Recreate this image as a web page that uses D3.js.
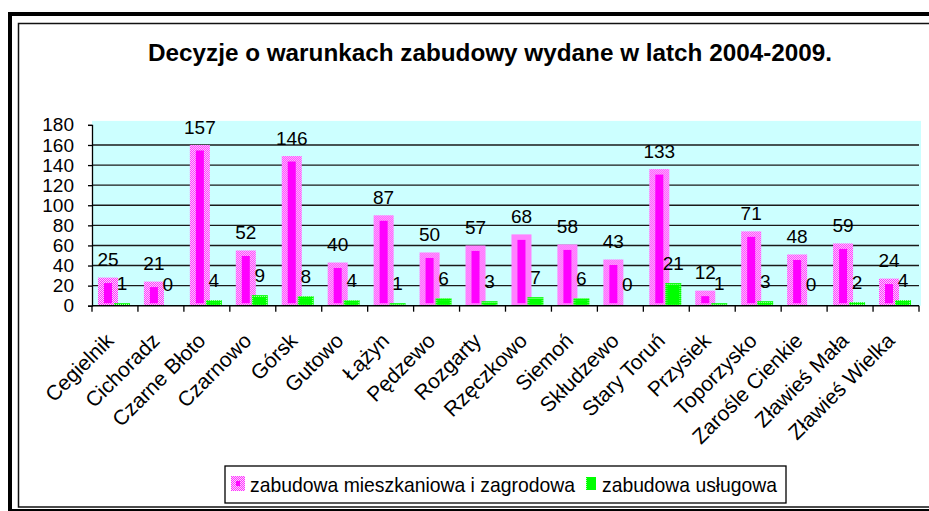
<!DOCTYPE html>
<html>
<head>
<meta charset="utf-8">
<script src="https://cdn.jsdelivr.net/npm/d3@7"></script>
<style>
  body { margin: 0; background: #fff; }
  text { font-family: "Liberation Sans", Arial, sans-serif; fill: #000; }
</style>
</head>
<body>
<div id="chart"></div>
<script>
const categories = ["Cegielnik", "Cichoradz", "Czarne Błoto", "Czarnowo", "Górsk", "Gutowo", "Łążyn", "Pędzewo", "Rozgarty", "Rzęczkowo", "Siemoń", "Skłudzewo", "Stary Toruń", "Przysiek", "Toporzysko", "Zarośle Cienkie", "Zławieś Mała", "Zławieś Wielka"];
const mieszkaniowa = [25, 21, 157, 52, 146, 40, 87, 50, 57, 68, 58, 43, 133, 12, 71, 48, 59, 24];
const uslugowa = [1, 0, 4, 9, 8, 4, 1, 6, 3, 7, 6, 0, 21, 1, 3, 0, 2, 4];
const seriesNames = ["zabudowa mieszkaniowa i zagrodowa", "zabudowa usługowa"];
const yTicks = [0, 20, 40, 60, 80, 100, 120, 140, 160, 180];
const title = "Decyzje o warunkach zabudowy wydane w latch 2004-2009.";

const W = 929, H = 511;
const plot = { left: 92, right: 919, top: 124.9, bottom: 305.7 };

const svg = d3
  .select("#chart")
  .append("svg")
  .attr("width", W)
  .attr("height", H);

const defs = svg.append("defs");
const pinkPat = defs
  .append("pattern")
  .attr("id", "pinkPat")
  .attr("width", 2)
  .attr("height", 2)
  .attr("patternUnits", "userSpaceOnUse");
pinkPat.append("rect").attr("width", 2).attr("height", 2).attr("fill", "#ff33ff");
pinkPat.append("rect").attr("width", 1).attr("height", 1).attr("fill", "#ffd0ff");
pinkPat.append("rect").attr("x", 1).attr("y", 1).attr("width", 1).attr("height", 1).attr("fill", "#ffd0ff");

const greenPat = defs
  .append("pattern")
  .attr("id", "greenPat")
  .attr("width", 2)
  .attr("height", 2)
  .attr("patternUnits", "userSpaceOnUse");
greenPat.append("rect").attr("width", 2).attr("height", 2).attr("fill", "#00ff00");
greenPat.append("rect").attr("width", 1).attr("height", 1).attr("fill", "#b0ffb0");

// frame
svg.append("rect").attr("width", W).attr("height", H).attr("fill", "#fff");
svg
  .append("rect")
  .attr("x", 10)
  .attr("y", 14)
  .attr("width", 930)
  .attr("height", 497)
  .attr("fill", "none")
  .attr("stroke", "#000")
  .attr("stroke-width", 4);
svg
  .append("rect")
  .attr("x", 18.5)
  .attr("y", 23.5)
  .attr("width", 920)
  .attr("height", 483.5)
  .attr("fill", "none")
  .attr("stroke", "#111")
  .attr("stroke-width", 1.5);

svg
  .append("text")
  .attr("x", 490)
  .attr("y", 61)
  .attr("text-anchor", "middle")
  .attr("font-size", 24)
  .attr("font-weight", "bold")
  .attr("textLength", 684)
  .attr("lengthAdjust", "spacingAndGlyphs")
  .text(title);

const x = d3
  .scaleBand()
  .domain(categories)
  .range([plot.left, plot.right])
  .padding(0);
const xSub = d3
  .scaleBand()
  .domain([0, 1])
  .range([0, x.bandwidth()])
  .paddingInner(0)
  .paddingOuter(0.64);
const y = d3
  .scaleLinear()
  .domain([0, 180])
  .range([plot.bottom, plot.top]);

svg
  .append("rect")
  .attr("x", plot.left)
  .attr("y", y(180) - 4)
  .attr("width", plot.right - plot.left + 2)
  .attr("height", plot.bottom - y(180) + 4)
  .attr("fill", "#ccffff");

svg
  .append("g")
  .selectAll("line")
  .data(yTicks.slice(1, -1))
  .join("line")
  .attr("x1", plot.left)
  .attr("x2", plot.right)
  .attr("y1", (d) => y(d))
  .attr("y2", (d) => y(d))
  .attr("stroke", "#1a1a1a")
  .attr("stroke-width", 1.4);

const yAxis = svg
  .append("g")
  .attr("transform", `translate(${plot.left}, 0)`)
  .call(d3.axisLeft(y).tickValues(yTicks).tickSize(4).tickPadding(14));
yAxis.selectAll("text").attr("font-size", 19).style("font-family", "Liberation Sans, Arial, sans-serif");
yAxis.selectAll("path, line").attr("stroke", "#000").attr("stroke-width", 1.3);

const rows = categories.map((c, i) => ({ c, vals: [mieszkaniowa[i], uslugowa[i]] }));

const groups = svg
  .append("g")
  .selectAll("g")
  .data(rows)
  .join("g")
  .attr("transform", (d) => `translate(${x(d.c)}, 0)`);

// pink bars: patterned border, solid core
groups
  .append("rect")
  .attr("x", xSub(0) - 3)
  .attr("y", (d) => y(d.vals[0]) - 3)
  .attr("width", xSub.bandwidth() + 6)
  .attr("height", (d) => plot.bottom - y(d.vals[0]) + 3)
  .attr("fill", "url(#pinkPat)");
groups
  .append("rect")
  .attr("x", xSub(0) + 3)
  .attr("y", (d) => y(d.vals[0]) + 2.5)
  .attr("width", xSub.bandwidth() - 6)
  .attr("height", (d) => Math.max(0, plot.bottom - 2.5 - y(d.vals[0]) - 2.5))
  .attr("fill", "#ff00ff");

groups
  .filter((d) => d.vals[1] > 0)
  .append("rect")
  .attr("x", xSub(1) - 1)
  .attr("y", (d) => y(d.vals[1]) - 1.5)
  .attr("width", xSub.bandwidth() + 2)
  .attr("height", (d) => plot.bottom - y(d.vals[1]) + 1.5)
  .attr("fill", "url(#greenPat)");
groups
  .filter((d) => d.vals[1] > 2)
  .append("rect")
  .attr("x", xSub(1) + 1)
  .attr("y", (d) => y(d.vals[1]) + 0.5)
  .attr("width", xSub.bandwidth() - 2)
  .attr("height", (d) => plot.bottom - y(d.vals[1]) - 1.5)
  .attr("fill", "#00ff00");

[0, 1].forEach((s) => {
  groups
    .append("text")
    .attr("x", xSub(s) + xSub.bandwidth() / 2)
    .attr("y", (d) => y(d.vals[s]) - 14.5)
    .attr("text-anchor", "middle")
    .attr("font-size", 19)
    .text((d) => d.vals[s]);
});

// x axis
const xAxisG = svg.append("g");
xAxisG
  .append("line")
  .attr("x1", plot.left)
  .attr("x2", plot.right)
  .attr("y1", plot.bottom)
  .attr("y2", plot.bottom)
  .attr("stroke", "#000")
  .attr("stroke-width", 1.5);
xAxisG
  .selectAll("line.tick")
  .data(categories.concat([null]))
  .join("line")
  .attr("class", "tick")
  .attr("x1", (d) => (d === null ? plot.right : x(d)))
  .attr("x2", (d) => (d === null ? plot.right : x(d)))
  .attr("y1", plot.bottom)
  .attr("y2", plot.bottom + 6)
  .attr("stroke", "#000")
  .attr("stroke-width", 1.3);
xAxisG
  .selectAll("text")
  .data(categories)
  .join("text")
  .attr("text-anchor", "end")
  .attr("font-size", 21)
  .attr("transform", (d) => `translate(${x(d) + x.bandwidth() / 2}, 342) rotate(-45)`)
  .text((d) => d);

// legend
const legend = svg.append("g");
legend
  .append("rect")
  .attr("x", 225)
  .attr("y", 466)
  .attr("width", 561)
  .attr("height", 37)
  .attr("fill", "#fff")
  .attr("stroke", "#000")
  .attr("stroke-width", 1.3);
legend.append("rect").attr("x", 231).attr("y", 476).attr("width", 14).attr("height", 15).attr("fill", "url(#pinkPat)");
legend.append("rect").attr("x", 236).attr("y", 481).attr("width", 4).attr("height", 5).attr("fill", "#ff00ff");
legend
  .append("text")
  .attr("x", 250)
  .attr("y", 492)
  .attr("font-size", 21)
  .attr("textLength", 325)
  .attr("lengthAdjust", "spacingAndGlyphs")
  .text(seriesNames[0]);
legend.append("rect").attr("x", 586).attr("y", 477).attr("width", 10).attr("height", 13).attr("fill", "url(#greenPat)");
legend.append("rect").attr("x", 587).attr("y", 478).attr("width", 8).attr("height", 11).attr("fill", "#00ff00");
legend
  .append("text")
  .attr("x", 602)
  .attr("y", 492)
  .attr("font-size", 21)
  .attr("textLength", 175)
  .attr("lengthAdjust", "spacingAndGlyphs")
  .text(seriesNames[1]);
</script>
</body>
</html>
